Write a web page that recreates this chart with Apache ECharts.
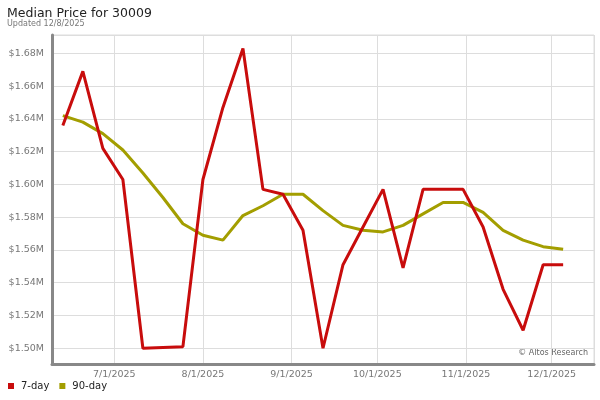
<!DOCTYPE html>
<html>
<head>
<meta charset="utf-8">
<script src="https://cdn.jsdelivr.net/npm/echarts@6/dist/echarts.min.js"></script>
<style>
html,body{margin:0;padding:0;background:#fff;}
#c{width:600px;height:400px;}
</style>
</head>
<body>
<div id="c"></div>
<script>
var dates = ['2025-06-13','2025-06-20','2025-06-27','2025-07-04','2025-07-11','2025-07-18','2025-07-25',
  '2025-08-01','2025-08-08','2025-08-15','2025-08-22','2025-08-29','2025-09-05','2025-09-12','2025-09-19',
  '2025-09-26','2025-10-03','2025-10-10','2025-10-17','2025-10-24','2025-10-31','2025-11-07','2025-11-14',
  '2025-11-21','2025-11-28','2025-12-05'];
var sevenDay = [1.636,1.669,1.622,1.603,1.500,1.5005,1.501,1.603,1.647,1.683,1.597,1.594,1.572,1.500,1.551,
  1.574,1.597,1.549,1.597,1.597,1.597,1.574,1.536,1.511,1.551,1.551];
var ninetyDay = [1.642,1.638,1.631,1.621,1.607,1.592,1.576,1.569,1.566,1.581,1.587,1.594,1.594,1.584,1.575,
  1.572,1.571,1.575,1.582,1.589,1.589,1.583,1.572,1.566,1.562,1.5605];
var seriesNames = ['7-day','90-day'];
var titleText = 'Median Price for 30009';
var subtitleText = 'Updated 12/8/2025';
var creditText = '\u00a9 Altos Research';

function toTime(s){ var p = s.split('-'); return new Date(+p[0], +p[1]-1, +p[2]).getTime(); }
var xMin = toTime('2025-06-09') + 5*3600e3;
var xMax = toTime('2025-12-15') + 19*3600e3;

var FONT = 'DejaVu Sans';
var chart = echarts.init(document.getElementById('c'), null, {renderer:'canvas'});
function pairs(vals){ return dates.map(function(d,i){ return [toTime(d), vals[i]]; }); }

chart.setOption({
  animation:false,
  backgroundColor:'#fff',
  title:{
    text:titleText, subtext:subtitleText, left:7, top:7, padding:0, itemGap:0,
    textStyle:{fontFamily:FONT, fontSize:12.5, fontWeight:'normal', color:'#222'},
    subtextStyle:{fontFamily:FONT, fontSize:8, color:'#777'}
  },
  legend:{
    left:8, top:381, padding:0, itemWidth:6, itemHeight:6, itemGap:10, icon:'rect',
    textStyle:{fontFamily:FONT, fontSize:10, color:'#222', padding:[0,0,0,2]},
    data:seriesNames
  },
  grid:{left:52, right:6, top:35, bottom:36, show:true, borderColor:'#ddd', borderWidth:1, containLabel:false},
  xAxis:{
    type:'time', min:xMin, max:xMax, splitNumber:6,
    axisLine:{show:true, lineStyle:{color:'#888', width:3}},
    axisTick:{show:false},
    splitLine:{show:true, lineStyle:{color:'#ddd', width:1}},
    axisLabel:{
      fontFamily:FONT, fontSize:9.5, color:'#777', margin:6, showMinLabel:false, showMaxLabel:false,
      formatter:function(v){ var d=new Date(v); return (d.getMonth()+1)+'/'+d.getDate()+'/'+d.getFullYear(); }
    }
  },
  yAxis:{
    type:'value', min:1.4904, max:1.6912, splitNumber:10,
    axisLine:{show:true, lineStyle:{color:'#888', width:3}},
    axisTick:{show:false},
    splitLine:{show:true, lineStyle:{color:'#ddd', width:1}},
    axisLabel:{
      fontFamily:FONT, fontSize:9.5, color:'#777', margin:8, showMinLabel:false, showMaxLabel:false,
      formatter:function(v){ return '$' + v.toFixed(2) + 'M'; }
    }
  },
  graphic:[{
    type:'text', right:12, top:349,
    style:{text:creditText, fontFamily:FONT, fontSize:8, fill:'#666'}
  }],
  series:[
    {name:seriesNames[0], type:'line', data:pairs(sevenDay), symbol:'none', color:'#c80c0c',
     lineStyle:{width:3, color:'#c80c0c'}, z:3},
    {name:seriesNames[1], type:'line', data:pairs(ninetyDay), symbol:'none', color:'#a39e00',
     lineStyle:{width:3, color:'#a39e00'}, z:2}
  ]
});
</script>
</body>
</html>
